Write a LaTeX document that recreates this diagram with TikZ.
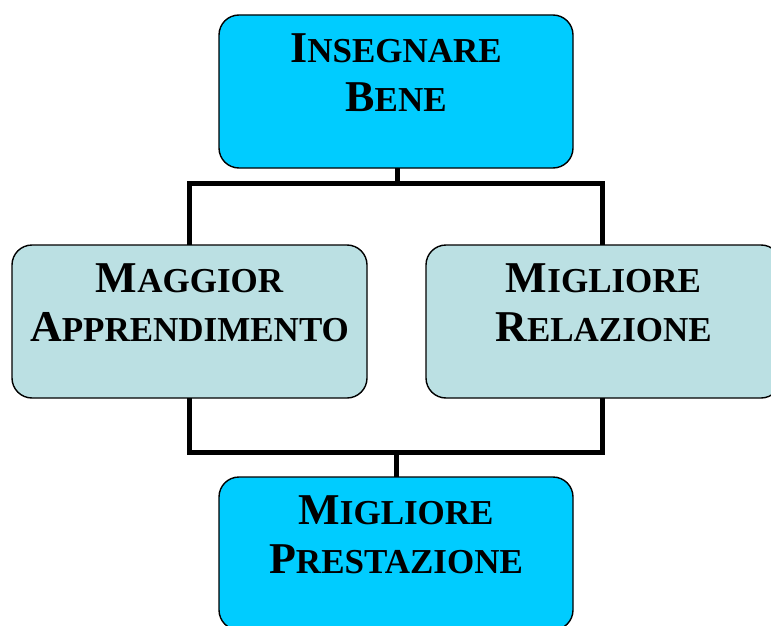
\documentclass[tikz,border=0pt]{standalone}
\usepackage{fontspec}
\setmainfont{Liberation Serif}
\definecolor{topcyan}{HTML}{00CCFF}
\definecolor{midblue}{HTML}{BBE0E3}
\newcommand\bigsmall[2]{{\fontsize{44}{49}\selectfont #1}{\fontsize{35}{49}\selectfont #2}}
\begin{document}
\begin{tikzpicture}[x=1pt,y=-1pt,
  boxA/.style={draw=black,line width=1.4pt,rounded corners=20pt,fill=topcyan,minimum width=354pt,minimum height=153pt,inner sep=0pt,outer sep=0pt},
  boxB/.style={boxA,fill=midblue,minimum width=355pt},
  lbl/.style={anchor=north,align=center,font=\bfseries\fontsize{44}{49}\selectfont,inner sep=0pt},
  conn/.style={line width=5pt,line cap=rect}]
\useasboundingbox (0,0) rectangle (771,626);
\fill[white] (0,0) rectangle (771,626);
% connectors
\coordinate (t1) at (397,183);
\coordinate (tl) at (189,183);
\coordinate (tr) at (602,183);
\coordinate (b1) at (396,452);
\coordinate (bl) at (189,452);
\coordinate (br) at (602,452);
\node[boxA] (top) at (396,91.5) {};
\node[boxB] (left) at (189.5,321.5) {};
\node[boxB] (right) at (603.5,321.5) {};
\node[boxA] (bot) at (396,553.5) {};
\draw[line width=5pt] (top.south -| t1) -- (t1);
\draw[conn] (tl) -- (tr);
\draw[line width=5pt] (tl) -- (tl |- left.north);
\draw[line width=5pt] (tr) -- (tr |- right.north);
\draw[line width=5pt] (bl |- left.south) -- (bl) -- (br) -- (br |- right.south);
\draw[line width=5pt] (b1) -- (b1 |- bot.north);
% labels
\node[lbl] (topt) at ([yshift=-18pt]top.north) {\bigsmall{I}{NSEGNARE}\\\bigsmall{B}{ENE}};
\node[lbl] (leftt) at ([yshift=-18pt]left.north) {\bigsmall{M}{AGGIOR}\\\bigsmall{A}{PPRENDIMENTO}};
\node[lbl] (rightt) at ([yshift=-18pt]right.north) {\bigsmall{M}{IGLIORE}\\\bigsmall{R}{ELAZIONE}};
\node[lbl] (bott) at ([yshift=-18pt]bot.north) {\bigsmall{M}{IGLIORE}\\\bigsmall{P}{RESTAZIONE}};
\end{tikzpicture}
\end{document}
